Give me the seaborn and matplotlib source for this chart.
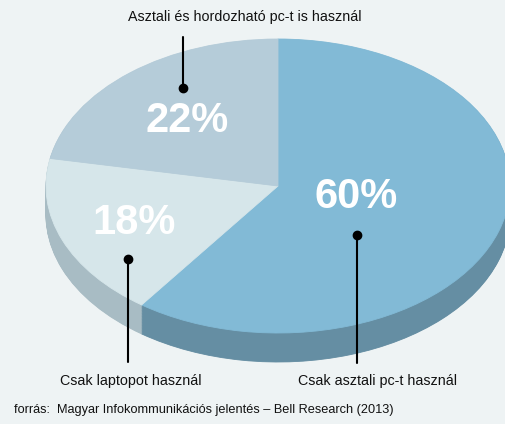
import numpy as np
import matplotlib
matplotlib.use("Agg")
import matplotlib.pyplot as plt
import seaborn as sns

# ---- data ----
categories = ["Csak asztali pc-t használ", "Csak laptopot használ", "Asztali és hordozható pc-t is használ"]
shares = [60, 18, 22]
pct_labels = ["60%", "18%", "22%"]
source = "forrás:  Magyar Infokommunikációs jelentés – Bell Research (2013)"

# ---- style ----
top_colors = ["#82bad6", "#d6e6ea", "#b5ccd9"]
side_colors = ["#658ea3", "#a8bcc4", "#9fb3bf"]
bg = "#eef3f4"

sns.set_theme(style="white", rc={"figure.facecolor": bg, "axes.facecolor": bg})
plt.rcParams["font.family"] = ["Liberation Sans", "DejaVu Sans"]

W, H = 506, 424
fig = plt.figure(figsize=(W / 100, H / 100), dpi=100)

# pie axes: unit circle squashed into an ellipse
cx, cy, rx, ry = 278, 186, 232, 147
ax = fig.add_axes([0, 0, 1, 1])
ax.set_facecolor(bg)
depth = 29 / ry

for off in np.linspace(-depth, 0, 40)[:-1]:
    ax.pie(shares, colors=side_colors, startangle=90, counterclock=False,
           center=(0, off), radius=1, wedgeprops=dict(linewidth=0.6))
    for w, c in zip(ax.patches[-3:], side_colors):
        w.set_edgecolor(c)

wedges, _ = ax.pie(shares, colors=top_colors, startangle=90, counterclock=False,
                   center=(0, 0), radius=1, wedgeprops=dict(linewidth=0.6))
for w, c in zip(wedges, top_colors):
    w.set_edgecolor(c)

ax.set_aspect("auto")
ax.set_xlim(-cx / rx, (W - cx) / rx)
ax.set_ylim(-(H - cy) / ry, cy / ry)
ax.axis("off")

# percentage labels (layout positions in pie units)
label_pos = [(0.336, -0.075), (-0.621, -0.252), (-0.392, 0.442)]
for (lx, ly), t in zip(label_pos, pct_labels):
    ax.text(lx, ly, t, ha="center", va="center", color="white",
            fontsize=30, fontweight="bold")

# annotation overlay in pixel coords
ov = fig.add_axes([0, 0, 1, 1], facecolor="none")
ov.set_xlim(0, W)
ov.set_ylim(H, 0)
ov.axis("off")

leaders = [
    # (dot x, dot y, line end y, text x, text y, text)
    (357, 235, 363, 378, 381, categories[0]),
    (128, 259, 362, 131, 381, categories[1]),
    (183, 88, 37, 245, 17, categories[2]),
]
for dx, dy, ey, tx, ty, txt in leaders:
    ov.plot([dx, dx], [dy, ey], color="black", lw=1.5)
    ov.plot(dx, dy, "o", color="black", ms=6)
    ov.text(tx, ty, txt, ha="center", va="center", fontsize=10.3, color="#111111")

ov.text(14, 410, source, ha="left", va="center", fontsize=9.2, color="#111111")

fig.savefig("out.png", dpi=100, facecolor=bg)
